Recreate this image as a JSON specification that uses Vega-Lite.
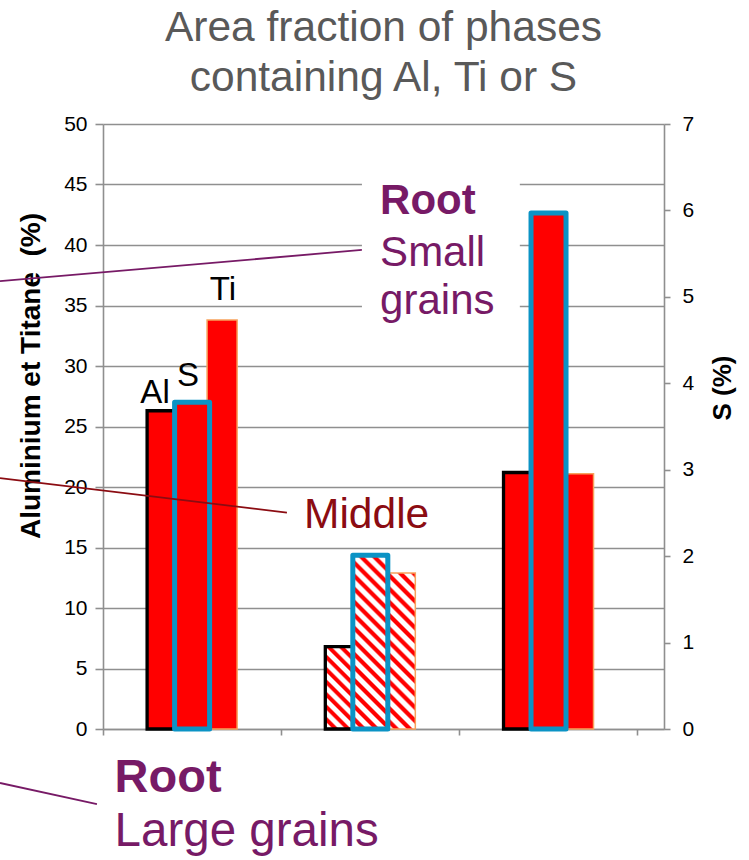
{
  "$schema": "https://vega.github.io/schema/vega-lite/v6.json",
  "width": 561,
  "height": 605,
  "autosize": {"type": "none"},
  "padding": {"left": 103, "top": 124, "right": 85, "bottom": 131},
  "background": "white",
  "config": {"view": {"stroke": null}, "font": "Liberation Sans"},
  "title": {
    "text": ["Area fraction of phases", "containing Al, Ti or S"],
    "fontSize": 42.5,
    "font": "Liberation Sans",
    "fontWeight": "normal",
    "color": "#595959",
    "lineHeight": 50,
    "anchor": "middle",
    "frame": "group",
    "offset": 14
  },
  "datasets": {
    "bars": [
      {"group": "Root – Large grains", "element": "Al", "value": 26.3},
      {"group": "Root – Large grains", "element": "S", "value": 3.78},
      {"group": "Root – Large grains", "element": "Ti", "value": 33.8},
      {"group": "Middle", "element": "Al", "value": 6.8},
      {"group": "Middle", "element": "S", "value": 2.01},
      {"group": "Middle", "element": "Ti", "value": 12.9},
      {"group": "Root – Small grains", "element": "Al", "value": 21.2},
      {"group": "Root – Small grains", "element": "S", "value": 5.97},
      {"group": "Root – Small grains", "element": "Ti", "value": 21.1}
    ],
    "leaders": [
      {"role": "grain", "x": -0.578, "y": 37.02, "x2": 1.453, "y2": 39.59},
      {"role": "zone", "x": -0.578, "y": 20.74, "x2": 1.032, "y2": 17.88},
      {"role": "grain", "x": -0.578, "y": -4.46, "x2": -0.034, "y2": -6.2}
    ],
    "box": [
      {"x": 1.453, "y": 32.5, "x2": 2.339, "y2": 46.5}
    ],
    "labels": [
      {"text": "Root", "role": "site", "x": 1.555, "y": 42.6},
      {"text": "Small", "role": "grain", "x": 1.555, "y": 38.26},
      {"text": "grains", "role": "grain", "x": 1.555, "y": 34.3},
      {"text": "Middle", "role": "zone", "x": 1.128, "y": 16.6},
      {"text": "Root", "role": "site", "x": 0.065, "y": -5.21},
      {"text": "Large grains", "role": "grain", "x": 0.065, "y": -9.67},
      {"text": "Al", "role": "series", "x": 0.292, "y": 26.94},
      {"text": "S", "role": "series", "x": 0.477, "y": 28.35},
      {"text": "Ti", "role": "series", "x": 0.673, "y": 35.45}
    ]
  },
  "resolve": {"scale": {"x": "independent", "y": "independent"}},
  "layer": [
    {
      "data": {"name": "bars"},
      "transform": [{"filter": "datum.element !== 'S'"}],
      "mark": {"type": "bar", "strokeJoin": "miter"},
      "encoding": {
        "x": {
          "field": "group", "type": "nominal",
          "sort": ["Root – Large grains", "Middle", "Root – Small grains"],
          "scale": {"domain": ["Root – Large grains", "Middle", "Root – Small grains"], "paddingInner": 0, "paddingOuter": 0.074, "align": 0},
          "axis": {"orient": "bottom", "labels": false, "title": null, "bandPosition": 0, "tickSize": 6, "tickColor": "#8f8f8f", "tickWidth": 1.6, "domainColor": "#8f8f8f", "domainWidth": 1.6, "grid": false}
        },
        "xOffset": {
          "field": "element", "type": "nominal",
          "scale": {"domain": ["_left", "Al", "S", "Ti", "_right"], "paddingInner": 0, "paddingOuter": 0.47}
        },
        "y": {
          "field": "value", "type": "quantitative",
          "scale": {"domain": [0, 50], "nice": false},
          "axis": {
            "orient": "left",
            "values": [0, 5, 10, 15, 20, 25, 30, 35, 40, 45, 50],
            "grid": true, "gridColor": "#8f8f8f", "gridWidth": 1.6,
            "domainColor": "#8f8f8f", "domainWidth": 1.6,
            "tickColor": "#8f8f8f", "tickWidth": 1.6, "tickSize": 8,
            "labelFont": "Liberation Sans", "labelFontSize": 21, "labelColor": "#000000", "labelPadding": 8,
            "title": "Aluminium et Titane\u00a0 (%)",
            "titleFont": "Liberation Sans", "titleFontSize": 28, "titleFontWeight": "bold", "titleColor": "#000000",
            "titleAngle": 270, "titleAlign": "center", "titleBaseline": "alphabetic",
            "titleX": -64, "titleY": 251.5
          }
        },
        "fill": {
          "condition": [
            {
              "test": "datum.group === 'Middle' && datum.element === 'Al'",
              "value": {
                "gradient": "linear", "x1": 1, "y1": 0, "x2": 0.5609, "y2": 1.2045,
                "stops": [
                  {"offset": 0, "color": "#ff0000"}, {"offset": 0.0333, "color": "#ff0000"}, {"offset": 0.05, "color": "#ffffff"}, {"offset": 0.0944, "color": "#ffffff"},
                  {"offset": 0.1111, "color": "#ff0000"}, {"offset": 0.1444, "color": "#ff0000"}, {"offset": 0.1611, "color": "#ffffff"}, {"offset": 0.2056, "color": "#ffffff"},
                  {"offset": 0.2222, "color": "#ff0000"}, {"offset": 0.2556, "color": "#ff0000"}, {"offset": 0.2722, "color": "#ffffff"}, {"offset": 0.3167, "color": "#ffffff"},
                  {"offset": 0.3333, "color": "#ff0000"}, {"offset": 0.3667, "color": "#ff0000"}, {"offset": 0.3833, "color": "#ffffff"}, {"offset": 0.4278, "color": "#ffffff"},
                  {"offset": 0.4444, "color": "#ff0000"}, {"offset": 0.4778, "color": "#ff0000"}, {"offset": 0.4944, "color": "#ffffff"}, {"offset": 0.5389, "color": "#ffffff"},
                  {"offset": 0.5556, "color": "#ff0000"}, {"offset": 0.5889, "color": "#ff0000"}, {"offset": 0.6056, "color": "#ffffff"}, {"offset": 0.65, "color": "#ffffff"},
                  {"offset": 0.6667, "color": "#ff0000"}, {"offset": 0.7, "color": "#ff0000"}, {"offset": 0.7167, "color": "#ffffff"}, {"offset": 0.7611, "color": "#ffffff"},
                  {"offset": 0.7778, "color": "#ff0000"}, {"offset": 0.8111, "color": "#ff0000"}, {"offset": 0.8278, "color": "#ffffff"}, {"offset": 0.8722, "color": "#ffffff"},
                  {"offset": 0.8889, "color": "#ff0000"}, {"offset": 0.9222, "color": "#ff0000"}, {"offset": 0.9389, "color": "#ffffff"}, {"offset": 0.9833, "color": "#ffffff"},
                  {"offset": 1, "color": "#ff0000"}
                ]
              }
            },
            {
              "test": "datum.group === 'Middle' && datum.element === 'Ti'",
              "value": {
                "gradient": "linear", "x1": 1, "y1": 0, "x2": 0.779, "y2": 1.1497,
                "stops": [
                  {"offset": 0, "color": "#ff0000"}, {"offset": 0.0214, "color": "#ff0000"}, {"offset": 0.0321, "color": "#ffffff"}, {"offset": 0.0607, "color": "#ffffff"},
                  {"offset": 0.0714, "color": "#ff0000"}, {"offset": 0.0929, "color": "#ff0000"}, {"offset": 0.1036, "color": "#ffffff"}, {"offset": 0.1321, "color": "#ffffff"},
                  {"offset": 0.1429, "color": "#ff0000"}, {"offset": 0.1643, "color": "#ff0000"}, {"offset": 0.175, "color": "#ffffff"}, {"offset": 0.2036, "color": "#ffffff"},
                  {"offset": 0.2143, "color": "#ff0000"}, {"offset": 0.2357, "color": "#ff0000"}, {"offset": 0.2464, "color": "#ffffff"}, {"offset": 0.275, "color": "#ffffff"},
                  {"offset": 0.2857, "color": "#ff0000"}, {"offset": 0.3071, "color": "#ff0000"}, {"offset": 0.3179, "color": "#ffffff"}, {"offset": 0.3464, "color": "#ffffff"},
                  {"offset": 0.3571, "color": "#ff0000"}, {"offset": 0.3786, "color": "#ff0000"}, {"offset": 0.3893, "color": "#ffffff"}, {"offset": 0.4179, "color": "#ffffff"},
                  {"offset": 0.4286, "color": "#ff0000"}, {"offset": 0.45, "color": "#ff0000"}, {"offset": 0.4607, "color": "#ffffff"}, {"offset": 0.4893, "color": "#ffffff"},
                  {"offset": 0.5, "color": "#ff0000"}, {"offset": 0.5214, "color": "#ff0000"}, {"offset": 0.5321, "color": "#ffffff"}, {"offset": 0.5607, "color": "#ffffff"},
                  {"offset": 0.5714, "color": "#ff0000"}, {"offset": 0.5929, "color": "#ff0000"}, {"offset": 0.6036, "color": "#ffffff"}, {"offset": 0.6321, "color": "#ffffff"},
                  {"offset": 0.6429, "color": "#ff0000"}, {"offset": 0.6643, "color": "#ff0000"}, {"offset": 0.675, "color": "#ffffff"}, {"offset": 0.7036, "color": "#ffffff"},
                  {"offset": 0.7143, "color": "#ff0000"}, {"offset": 0.7357, "color": "#ff0000"}, {"offset": 0.7464, "color": "#ffffff"}, {"offset": 0.775, "color": "#ffffff"},
                  {"offset": 0.7857, "color": "#ff0000"}, {"offset": 0.8071, "color": "#ff0000"}, {"offset": 0.8179, "color": "#ffffff"}, {"offset": 0.8464, "color": "#ffffff"},
                  {"offset": 0.8571, "color": "#ff0000"}, {"offset": 0.8786, "color": "#ff0000"}, {"offset": 0.8893, "color": "#ffffff"}, {"offset": 0.9179, "color": "#ffffff"},
                  {"offset": 0.9286, "color": "#ff0000"}, {"offset": 0.95, "color": "#ff0000"}, {"offset": 0.9607, "color": "#ffffff"}, {"offset": 0.9893, "color": "#ffffff"},
                  {"offset": 1, "color": "#ff0000"}
                ]
              }
            }
          ],
          "value": "#ff0000"
        },
        "stroke": {"condition": {"test": "datum.element === 'Al'", "value": "#000000"}, "value": "#f7a25c"},
        "strokeWidth": {"condition": {"test": "datum.element === 'Al'", "value": 3.3}, "value": 1.5}
      }
    },
    {
      "data": {"name": "bars"},
      "transform": [{"filter": "datum.element === 'S'"}],
      "mark": {"type": "bar", "width": 35, "stroke": "#0b93c5", "strokeWidth": 5, "strokeJoin": "round"},
      "encoding": {
        "x": {
          "field": "group", "type": "nominal",
          "sort": ["Root – Large grains", "Middle", "Root – Small grains"],
          "scale": {"domain": ["Root – Large grains", "Middle", "Root – Small grains"], "paddingInner": 0, "paddingOuter": 0.074, "align": 0},
          "axis": {"orient": "bottom", "values": ["Root – Small grains"], "bandPosition": 1, "labels": false, "domain": false, "title": null, "grid": false, "tickSize": 6, "tickColor": "#8f8f8f", "tickWidth": 1.6}
        },
        "y": {
          "field": "value", "type": "quantitative",
          "scale": {"domain": [0, 7], "nice": false},
          "axis": {
            "orient": "right",
            "values": [0, 1, 2, 3, 4, 5, 6, 7],
            "grid": false,
            "domainColor": "#8f8f8f", "domainWidth": 1.6,
            "tickColor": "#8f8f8f", "tickWidth": 1.6, "tickSize": 6,
            "labelFont": "Liberation Sans", "labelFontSize": 21, "labelColor": "#000000", "labelPadding": 12,
            "title": "S (%)",
            "titleFont": "Liberation Sans", "titleFontSize": 26, "titleFontWeight": "bold", "titleColor": "#000000",
            "titleAngle": 270, "titleAlign": "center", "titleBaseline": "alphabetic",
            "titleX": 66, "titleY": 263.5
          }
        },
        "fill": {
          "condition": {
            "test": "datum.group === 'Middle'",
            "value": {
              "gradient": "linear", "x1": 1, "y1": 0, "x2": 0.7673, "y2": 1.1546,
              "stops": [
                {"offset": 0, "color": "#ff0000"}, {"offset": 0.0188, "color": "#ff0000"}, {"offset": 0.0281, "color": "#ffffff"}, {"offset": 0.0531, "color": "#ffffff"},
                {"offset": 0.0625, "color": "#ff0000"}, {"offset": 0.0813, "color": "#ff0000"}, {"offset": 0.0906, "color": "#ffffff"}, {"offset": 0.1156, "color": "#ffffff"},
                {"offset": 0.125, "color": "#ff0000"}, {"offset": 0.1438, "color": "#ff0000"}, {"offset": 0.1531, "color": "#ffffff"}, {"offset": 0.1781, "color": "#ffffff"},
                {"offset": 0.1875, "color": "#ff0000"}, {"offset": 0.2063, "color": "#ff0000"}, {"offset": 0.2156, "color": "#ffffff"}, {"offset": 0.2406, "color": "#ffffff"},
                {"offset": 0.25, "color": "#ff0000"}, {"offset": 0.2688, "color": "#ff0000"}, {"offset": 0.2781, "color": "#ffffff"}, {"offset": 0.3031, "color": "#ffffff"},
                {"offset": 0.3125, "color": "#ff0000"}, {"offset": 0.3313, "color": "#ff0000"}, {"offset": 0.3406, "color": "#ffffff"}, {"offset": 0.3656, "color": "#ffffff"},
                {"offset": 0.375, "color": "#ff0000"}, {"offset": 0.3938, "color": "#ff0000"}, {"offset": 0.4031, "color": "#ffffff"}, {"offset": 0.4281, "color": "#ffffff"},
                {"offset": 0.4375, "color": "#ff0000"}, {"offset": 0.4563, "color": "#ff0000"}, {"offset": 0.4656, "color": "#ffffff"}, {"offset": 0.4906, "color": "#ffffff"},
                {"offset": 0.5, "color": "#ff0000"}, {"offset": 0.5188, "color": "#ff0000"}, {"offset": 0.5281, "color": "#ffffff"}, {"offset": 0.5531, "color": "#ffffff"},
                {"offset": 0.5625, "color": "#ff0000"}, {"offset": 0.5813, "color": "#ff0000"}, {"offset": 0.5906, "color": "#ffffff"}, {"offset": 0.6156, "color": "#ffffff"},
                {"offset": 0.625, "color": "#ff0000"}, {"offset": 0.6438, "color": "#ff0000"}, {"offset": 0.6531, "color": "#ffffff"}, {"offset": 0.6781, "color": "#ffffff"},
                {"offset": 0.6875, "color": "#ff0000"}, {"offset": 0.7063, "color": "#ff0000"}, {"offset": 0.7156, "color": "#ffffff"}, {"offset": 0.7406, "color": "#ffffff"},
                {"offset": 0.75, "color": "#ff0000"}, {"offset": 0.7688, "color": "#ff0000"}, {"offset": 0.7781, "color": "#ffffff"}, {"offset": 0.8031, "color": "#ffffff"},
                {"offset": 0.8125, "color": "#ff0000"}, {"offset": 0.8313, "color": "#ff0000"}, {"offset": 0.8406, "color": "#ffffff"}, {"offset": 0.8656, "color": "#ffffff"},
                {"offset": 0.875, "color": "#ff0000"}, {"offset": 0.8938, "color": "#ff0000"}, {"offset": 0.9031, "color": "#ffffff"}, {"offset": 0.9281, "color": "#ffffff"},
                {"offset": 0.9375, "color": "#ff0000"}, {"offset": 0.9563, "color": "#ff0000"}, {"offset": 0.9656, "color": "#ffffff"}, {"offset": 0.9906, "color": "#ffffff"},
                {"offset": 1, "color": "#ff0000"}
              ]
            }
          },
          "value": "#ff0000"
        }
      }
    },
    {
      "data": {"name": "leaders"},
      "mark": {"type": "rule", "strokeWidth": 1.8},
      "encoding": {
        "x": {"field": "x", "type": "quantitative", "scale": {"domain": [0, 3.148], "nice": false, "zero": false}, "axis": null},
        "x2": {"field": "x2"},
        "y": {"field": "y", "type": "quantitative", "scale": {"domain": [0, 50], "nice": false}, "axis": null},
        "y2": {"field": "y2"},
        "stroke": {"condition": {"test": "datum.role === 'zone'", "value": "#8b0c12"}, "value": "#771a66"}
      }
    },
    {
      "data": {"name": "box"},
      "mark": {"type": "rect", "fill": "#ffffff"},
      "encoding": {
        "x": {"field": "x", "type": "quantitative", "scale": {"domain": [0, 3.148], "nice": false, "zero": false}, "axis": null},
        "x2": {"field": "x2"},
        "y": {"field": "y", "type": "quantitative", "scale": {"domain": [0, 50], "nice": false}, "axis": null},
        "y2": {"field": "y2"}
      }
    },
    {
      "data": {"name": "labels"},
      "transform": [{"filter": "datum.role === 'site'"}],
      "mark": {"type": "text", "font": "Liberation Sans", "fontWeight": "bold", "align": "left", "baseline": "alphabetic", "color": "#771a66"},
      "encoding": {
        "x": {"field": "x", "type": "quantitative", "scale": {"domain": [0, 3.148], "nice": false, "zero": false}, "axis": null},
        "y": {"field": "y", "type": "quantitative", "scale": {"domain": [0, 50], "nice": false}, "axis": null},
        "text": {"field": "text"},
        "size": {"condition": {"test": "datum.y < 0", "value": 47}, "value": 42}
      }
    },
    {
      "data": {"name": "labels"},
      "transform": [{"filter": "datum.role === 'grain'"}],
      "mark": {"type": "text", "font": "Liberation Sans", "align": "left", "baseline": "alphabetic", "color": "#771a66"},
      "encoding": {
        "x": {"field": "x", "type": "quantitative", "scale": {"domain": [0, 3.148], "nice": false, "zero": false}, "axis": null},
        "y": {"field": "y", "type": "quantitative", "scale": {"domain": [0, 50], "nice": false}, "axis": null},
        "text": {"field": "text"},
        "size": {"condition": {"test": "datum.y < 0", "value": 47.5}, "value": 42}
      }
    },
    {
      "data": {"name": "labels"},
      "transform": [{"filter": "datum.role === 'zone'"}],
      "mark": {"type": "text", "font": "Liberation Sans", "align": "left", "baseline": "alphabetic", "color": "#8b0c12", "size": 42.5},
      "encoding": {
        "x": {"field": "x", "type": "quantitative", "scale": {"domain": [0, 3.148], "nice": false, "zero": false}, "axis": null},
        "y": {"field": "y", "type": "quantitative", "scale": {"domain": [0, 50], "nice": false}, "axis": null},
        "text": {"field": "text"}
      }
    },
    {
      "data": {"name": "labels"},
      "transform": [{"filter": "datum.role === 'series'"}],
      "mark": {"type": "text", "font": "Liberation Sans", "align": "center", "baseline": "alphabetic", "color": "#000000", "size": 33},
      "encoding": {
        "x": {"field": "x", "type": "quantitative", "scale": {"domain": [0, 3.148], "nice": false, "zero": false}, "axis": null},
        "y": {"field": "y", "type": "quantitative", "scale": {"domain": [0, 50], "nice": false}, "axis": null},
        "text": {"field": "text"}
      }
    }
  ]
}
